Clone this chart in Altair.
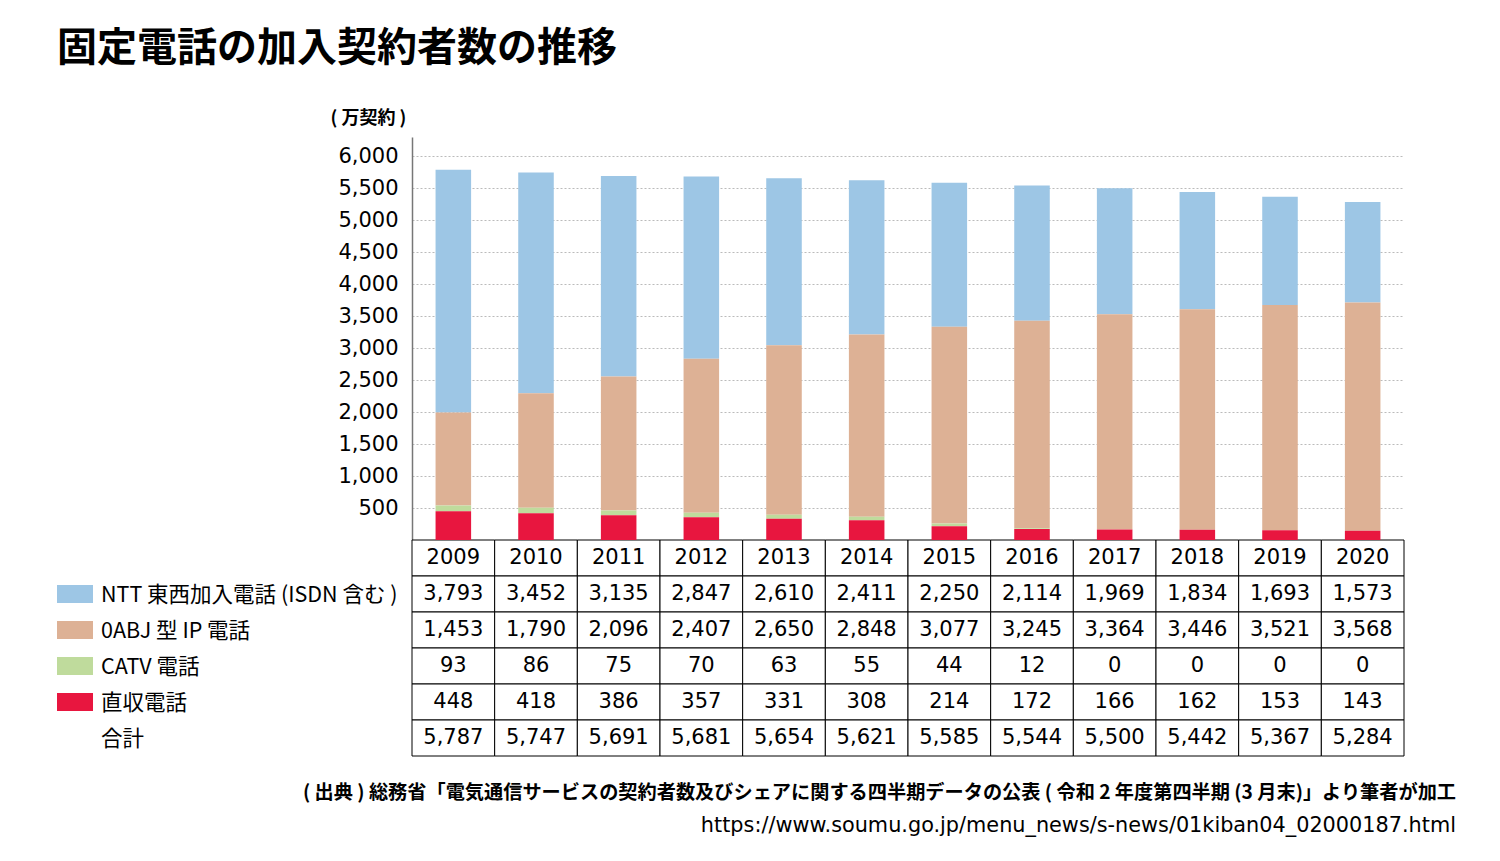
import altair as alt
import pandas as pd

# ---- data ----
years = [2009, 2010, 2011, 2012, 2013, 2014, 2015, 2016, 2017, 2018, 2019, 2020]
ntt = [3793, 3452, 3135, 2847, 2610, 2411, 2250, 2114, 1969, 1834, 1693, 1573]
abj = [1453, 1790, 2096, 2407, 2650, 2848, 3077, 3245, 3364, 3446, 3521, 3568]
catv = [93, 86, 75, 70, 63, 55, 44, 12, 0, 0, 0, 0]
direct = [448, 418, 386, 357, 331, 308, 214, 172, 166, 162, 153, 143]
total = [5787, 5747, 5691, 5681, 5654, 5621, 5585, 5544, 5500, 5442, 5367, 5284]

series_names = ["NTT 東西加入電話 (ISDN 含む )", "0ABJ 型 IP 電話", "CATV 電話", "直収電話"]
total_label = "合計"
colors = ["#9DC6E5", "#DDB195", "#BFDB9C", "#E8163F"]
y_ticks = [500, 1000, 1500, 2000, 2500, 3000, 3500, 4000, 4500, 5000, 5500, 6000]

title_text = "固定電話の加入契約者数の推移"
unit_text = "( 万契約 )"
source_text = "( 出典 ) 総務省「電気通信サービスの契約者数及びシェアに関する四半期データの公表 ( 令和 2 年度第四半期 (3 月末)」より筆者が加工"
url_text = "https://www.soumu.go.jp/menu_news/s-news/01kiban04_02000187.html"

JP = "Noto Sans CJK JP"
NUM = "DejaVu Sans"

# ---- tables built from the lists ----
year_labels = [str(y) for y in years]
series_values = [ntt, abj, catv, direct]
stack_rank = [3, 2, 1, 0]  # bottom: 直収, then CATV, 0ABJ, NTT on top

bar_rows = []
for name, vals, rank in zip(series_names, series_values, stack_rank):
    for y, v in zip(year_labels, vals):
        bar_rows.append({"series": name, "year": y, "value": v, "rank": rank})
bar_df = pd.DataFrame(bar_rows)

row_keys = ["年"] + series_names + [total_label]
table_rows = []
for y in year_labels:
    table_rows.append({"row": "年", "year": y, "text": y})
for name, vals in zip(series_names + [total_label], series_values + [total]):
    for y, v in zip(year_labels, vals):
        table_rows.append({"row": name, "year": y, "text": f"{v:,}"})
table_df = pd.DataFrame(table_rows)

label_df = pd.DataFrame({"row": series_names + [total_label]})
swatch_df = pd.DataFrame({"row": series_names, "series": series_names})
source_df = pd.DataFrame({"t": [source_text]})
url_df = pd.DataFrame({"t": [url_text]})

# ---- shared encodings ----
x_enc = alt.X("year:N", scale=alt.Scale(domain=year_labels, paddingInner=0, paddingOuter=0), axis=None)
row_scale = alt.Scale(domain=row_keys, range=[403, 619], paddingInner=0, paddingOuter=0)
color_enc = alt.Color("series:N", scale=alt.Scale(domain=series_names, range=colors), legend=None)

bars = alt.Chart(bar_df).mark_bar(width={"band": 0.43}).encode(
    x=x_enc,
    y=alt.Y(
        "value:Q",
        stack="zero",
        scale=alt.Scale(domain=[0, 6300], range=[403, 0], nice=False, zero=True),
        axis=alt.Axis(
            values=y_ticks,
            labelExpr="format(datum.value, ',')",
            title=unit_text,
            titleAngle=0,
            titleX=-44,
            titleY=-19,
            titleAlign="center",
            titleBaseline="middle",
            titleFont=JP,
            titleFontSize=18,
            titleFontWeight="bold",
            titleColor="#000",
            labelFont=NUM,
            labelFontSize=21,
            labelColor="#000",
            labelPadding=14,
            tickSize=0,
            ticks=False,
            grid=True,
            gridDash=[2, 2],
            gridColor="#bbbbbb",
            gridWidth=1,
            domainColor="#777777",
            domainWidth=1.5,
        ),
    ),
    color=color_enc,
    order=alt.Order("rank:Q"),
)

cells = alt.Chart(table_df).mark_rect(fill="white", stroke="#000000", strokeWidth=1).encode(
    x=x_enc,
    y=alt.Y("row:N", scale=row_scale, axis=None),
)

cell_text = alt.Chart(table_df).mark_text(font=NUM, fontSize=21, color="#000").encode(
    x=x_enc,
    y=alt.Y("row:N", scale=row_scale, axis=None),
    text="text:N",
)

row_labels = alt.Chart(label_df).mark_text(font=JP, fontSize=21.5, align="left", color="#000", dy=2).encode(
    x=alt.value(-311),
    y=alt.Y("row:N", scale=row_scale, axis=None),
    text="row:N",
)

swatches = alt.Chart(swatch_df).mark_point(
    shape="M-1,-0.5H1V0.5H-1Z", size=1296, filled=True, opacity=1, strokeWidth=0
).encode(
    x=alt.value(-337),
    y=alt.Y("row:N", scale=row_scale, axis=None),
    color=color_enc,
)

source = alt.Chart(source_df).mark_text(font=JP, fontSize=19.2, fontWeight="bold", align="right", color="#000").encode(
    x=alt.value(1044), y=alt.value(656), text="t:N"
)
url = alt.Chart(url_df).mark_text(font=NUM, fontSize=20.8, align="right", color="#000").encode(
    x=alt.value(1044), y=alt.value(689), text="t:N"
)

chart = (
    alt.layer(cells, bars, cell_text, row_labels, swatches, source, url)
    .resolve_scale(y="independent")
    .properties(
        width=992,
        height=619,
        title=alt.TitleParams(
            title_text,
            anchor="start",
            frame="group",
            dx=-355,
            offset=40,
            font=JP,
            fontSize=40,
            fontWeight="bold",
            color="#000",
        ),
        autosize=alt.AutoSizeParams(type="none"),
        padding={"left": 404, "top": 129, "right": 80, "bottom": 100},
        background="white",
    )
    .configure_view(stroke=None)
)

chart.save("out.html", embed_options={"renderer": "svg", "actions": False})
